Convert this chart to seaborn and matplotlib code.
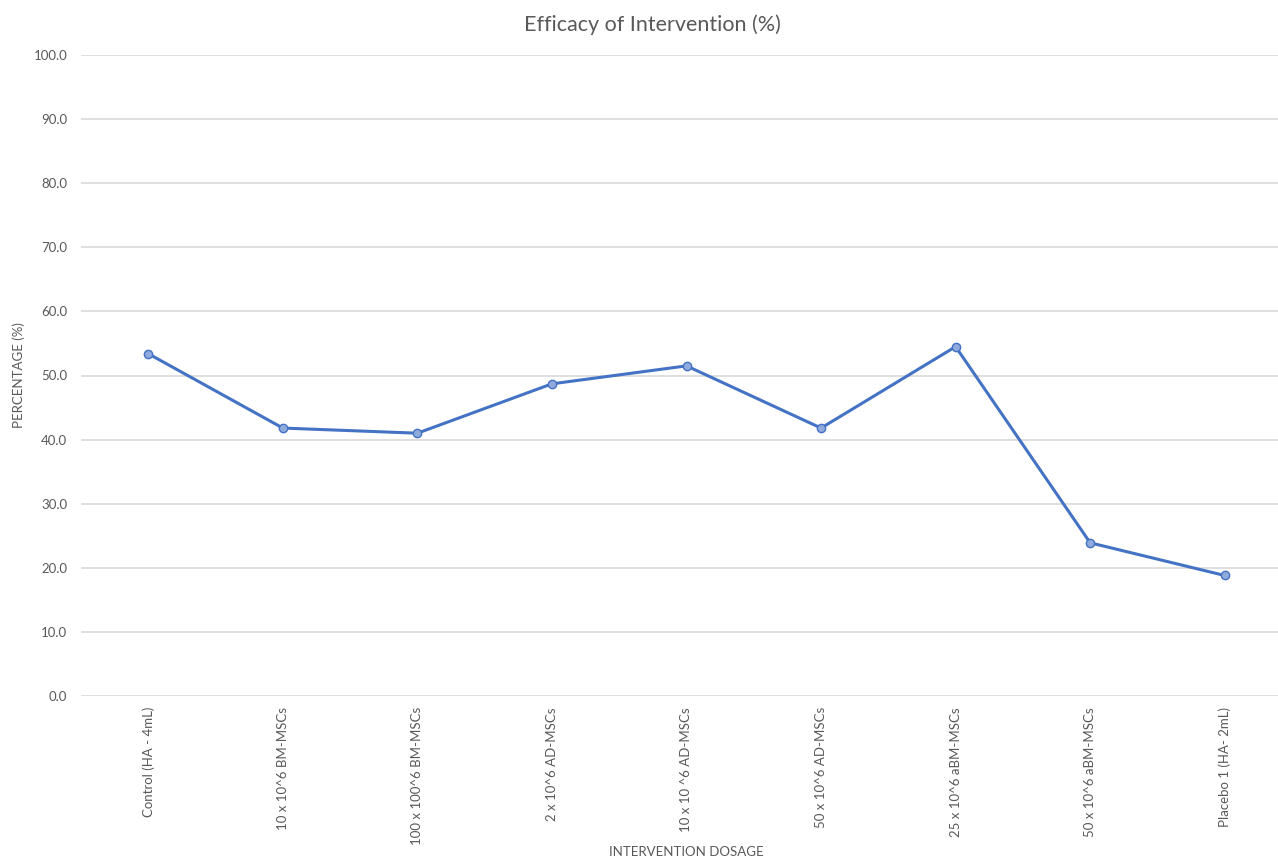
import matplotlib
matplotlib.use("Agg")
import matplotlib.pyplot as plt
import seaborn as sns
import pandas as pd

# datos
categories = [
    "Control (HA - 4mL)",
    "10 x 10^6 BM-MSCs",
    "100 x 100^6 BM-MSCs",
    "2 x 10^6 AD-MSCs",
    "10 x 10 ^6 AD-MSCs",
    "50 x 10^6 AD-MSCs",
    "25 x 10^6 aBM-MSCs",
    "50 x 10^6 aBM-MSCs",
    "Placebo 1 (HA- 2mL)",
]
efficacy = [53.4, 41.8, 41.0, 48.7, 51.5, 41.8, 54.5, 23.9, 18.8]
y_ticks = [0, 10, 20, 30, 40, 50, 60, 70, 80, 90, 100]

df = pd.DataFrame({"Dosage": categories, "Efficacy": efficacy})

sns.set_style("white")
plt.rcParams["font.family"] = ["Lato", "DejaVu Sans"]

text_color = "#595959"
fig = plt.figure(figsize=(12.78, 8.61), dpi=100)
ax = fig.add_axes([81 / 1278, 165 / 861, (1292 - 81) / 1278, 641 / 861])

sns.lineplot(
    data=df, x="Dosage", y="Efficacy", sort=False, ax=ax,
    color="#4472C4", linewidth=2.2, marker="o", markersize=6,
    markerfacecolor="#8FAADC", markeredgecolor="#4472C4", markeredgewidth=1,
)

ax.set_ylim(0, 100)
ax.set_xlim(-0.5, len(categories) - 0.5)
ax.set_yticks(y_ticks)
ax.set_yticklabels([f"{v:.1f}" for v in y_ticks])
ax.yaxis.grid(True, color="#D9D9D9", linewidth=1.2)
ax.set_axisbelow(True)
for s in ax.spines.values():
    s.set_visible(False)

ax.tick_params(axis="y", length=0, pad=10, labelsize=9.5, labelcolor=text_color)
ax.tick_params(axis="x", length=0, pad=8, labelsize=9.5, labelcolor=text_color,
               labelrotation=90)

ax.set_xlabel("INTERVENTION DOSAGE", fontsize=9.5, color=text_color)
ax.xaxis.set_label_coords((686 - 81) / (1292 - 81), -150 / 641)
ax.set_ylabel("PERCENTAGE (%)", fontsize=9.5, color=text_color)
ax.yaxis.set_label_coords(-56 / 1211, 0.5)
ax.set_title("Efficacy of Intervention (%)", fontsize=15.5, color=text_color,
             x=(652 - 81) / 1211, y=1.0 + 24 / 641, pad=0)

fig.savefig("out.png", dpi=100)
